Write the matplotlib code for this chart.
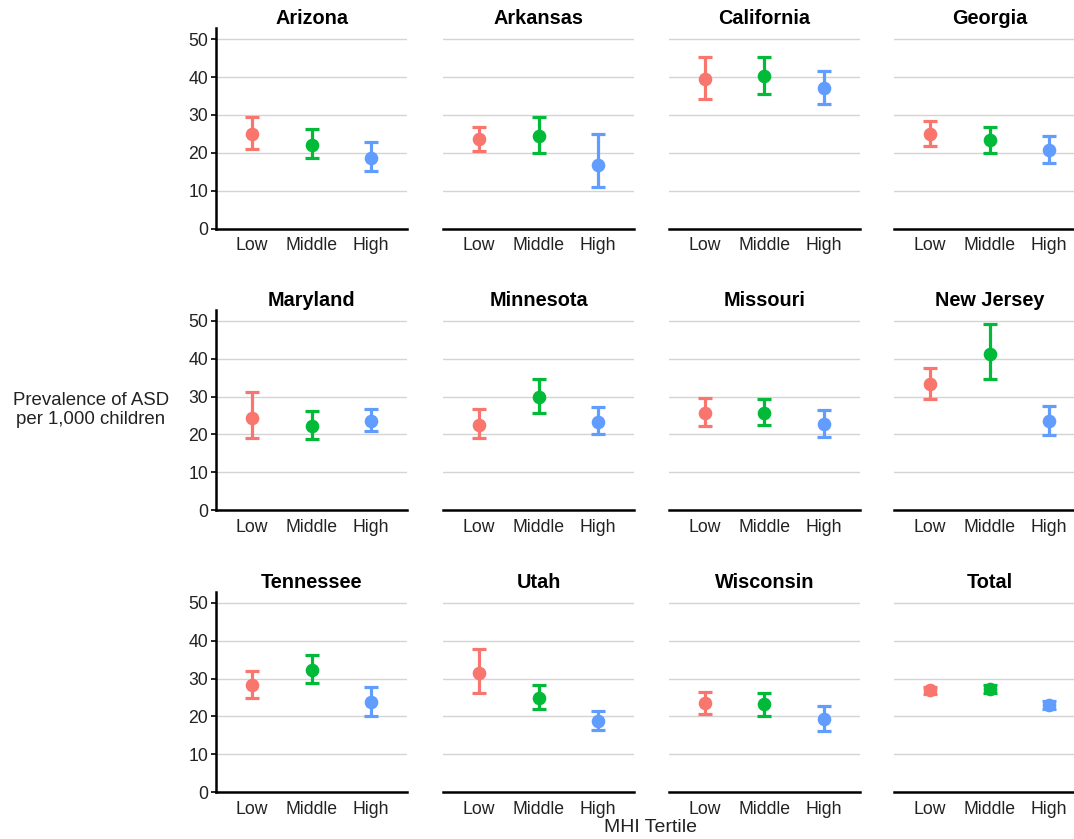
import matplotlib.pyplot as plt

plt.rcParams['font.family'] = ['Liberation Sans', 'DejaVu Sans']

# ASD prevalence per 1,000 children by median household income tertile
states = ['Arizona', 'Arkansas', 'California', 'Georgia',
          'Maryland', 'Minnesota', 'Missouri', 'New Jersey',
          'Tennessee', 'Utah', 'Wisconsin', 'Total']
tertiles = ['Low', 'Middle', 'High']

est_low = [25.0, 23.6, 39.5, 25.0, 24.4, 22.5, 25.8, 33.2, 28.3, 31.6, 23.6, 26.9]
lo_low = [21.1, 20.5, 34.2, 21.8, 19.1, 19.0, 22.3, 29.4, 25.0, 26.2, 20.6, 26.0]
hi_low = [29.6, 26.9, 45.4, 28.4, 31.1, 26.6, 29.6, 37.5, 31.9, 37.8, 26.5, 27.8]

est_mid = [22.0, 24.4, 40.2, 23.3, 22.3, 29.8, 25.7, 41.2, 32.2, 25.0, 23.2, 27.3]
lo_mid = [18.6, 20.0, 35.5, 19.9, 18.9, 25.7, 22.5, 34.6, 28.8, 22.1, 20.2, 26.3]
hi_mid = [26.2, 29.6, 45.4, 26.9, 26.2, 34.6, 29.3, 49.2, 36.1, 28.3, 26.3, 28.4]

est_high = [18.7, 16.7, 37.2, 20.7, 23.6, 23.4, 22.8, 23.5, 23.7, 18.8, 19.3, 23.1]
lo_high = [15.2, 11.1, 33.0, 17.4, 20.9, 20.2, 19.3, 19.9, 20.1, 16.5, 16.3, 22.1]
hi_high = [23.0, 25.1, 41.7, 24.4, 26.7, 27.3, 26.4, 27.4, 27.8, 21.5, 22.8, 24.2]

colors = ['#F8766D', '#00BA38', '#619CFF']

W, H = 1074, 839
fig = plt.figure(figsize=(W / 100, H / 100), dpi=100)

# panel geometry in pixels (4 columns x 3 rows, last column runs off the edge)
col_left = [216, 443, 669, 894]
row_bottom = [228.7, 510.3, 792.3]
panel_w, panel_h = 191, 200.5

series = [(est_low, lo_low, hi_low),
          (est_mid, lo_mid, hi_mid),
          (est_high, lo_high, hi_high)]

for i, state in enumerate(states):
    r, c = divmod(i, 4)
    ax = fig.add_axes([col_left[c] / W, 1 - row_bottom[r] / H,
                       panel_w / W, panel_h / H])
    for j, (est, lo, hi) in enumerate(series):
        y = est[i]
        ax.errorbar(j + 1, y, yerr=[[y - lo[i]], [hi[i] - y]],
                    fmt='o', color=colors[j], markersize=8.8,
                    elinewidth=2.3, capsize=4.7, capthick=2.3, zorder=3)

    ax.set_xlim(0.4, 3.6)
    ax.set_ylim(0, 52.9)
    ax.set_xticks([1, 2, 3])
    ax.set_xticklabels(tertiles)
    ax.set_yticks(range(0, 51, 10))
    ax.yaxis.grid(True, color='#D4D4D4', linewidth=1.0)
    ax.set_axisbelow(True)
    ax.tick_params(axis='x', length=0, pad=6, labelsize=12.7, labelcolor='#222222')
    ax.tick_params(axis='y', length=3.5, width=1.2, pad=2, labelsize=12.7,
                   labelcolor='#222222')

    for side in ['top', 'right']:
        ax.spines[side].set_visible(False)
    ax.spines['bottom'].set_linewidth(1.8)
    if c == 0:
        ax.spines['left'].set_linewidth(1.8)
    else:
        ax.spines['left'].set_visible(False)
        ax.tick_params(axis='y', left=False, labelleft=False)

    ax.set_title(state, fontsize=14.3, fontweight='bold', pad=2)

fig.text(91 / W, 1 - 410 / H, 'Prevalence of ASD\nper 1,000 children',
         ha='center', va='center', fontsize=13.4, color='#222222')
fig.text(650 / W, 1 - 828 / H, 'MHI Tertile',
         ha='center', va='center', fontsize=14.0, color='#222222')

fig.savefig('out.png', dpi=100, facecolor='white')
